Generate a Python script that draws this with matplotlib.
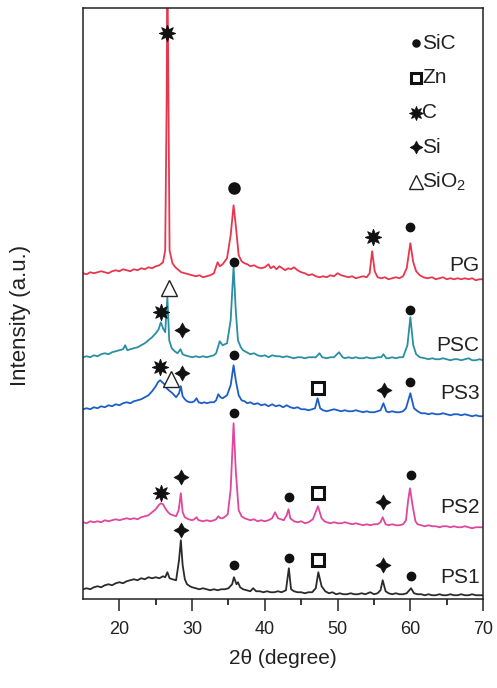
import numpy as np
import matplotlib
matplotlib.use("Agg")
import matplotlib.pyplot as plt

plt.rcParams['font.family'] = ['Liberation Sans Narrow', 'Liberation Sans', 'DejaVu Sans']
plt.rcParams['mathtext.default'] = 'regular'

# XRD patterns, stacked with offsets (2theta in degree, intensity in a.u.)
pg_pts = [(15, 326), (15.5, 325), (16, 327), (16.5, 326), (17, 327), (17.5, 328), (18, 327),
          (18.5, 326), (19, 328), (19.5, 329), (20, 328), (20.5, 330), (21, 329), (21.5, 328),
          (22, 330), (22.5, 329), (23, 331), (23.5, 330), (24, 332), (24.5, 331), (25, 333),
          (25.5, 334), (26, 337), (26.3, 349), (26.5, 499), (26.6, 640), (26.75, 499),
          (26.9, 349), (27.3, 336), (27.7, 332), (28, 330), (28.5, 327), (29, 326),
          (29.5, 325), (30, 324), (30.5, 323), (31, 324), (31.5, 322), (32, 323),
          (32.5, 324), (33, 326), (33.5, 337), (33.8, 333), (34.2, 335), (34.8, 341),
          (35.3, 364), (35.7, 394), (36.0, 374), (36.4, 344), (36.8, 338), (37.2, 336),
          (37.6, 335), (38, 333), (38.5, 334), (39, 332), (39.5, 331), (40, 332),
          (40.5, 335), (40.8, 331), (41.2, 333), (41.6, 330), (42, 333), (42.4, 331),
          (42.8, 329), (43.2, 331), (43.6, 330), (44, 332), (44.5, 329), (45, 327),
          (45.5, 326), (46, 324), (46.5, 325), (47, 323), (47.5, 322), (48, 323),
          (48.5, 322), (49, 324), (49.5, 323), (50, 326), (50.5, 324), (51, 323),
          (51.5, 322), (52, 323), (52.5, 321), (53, 322), (53.5, 323), (54, 322),
          (54.4, 326), (54.75, 348), (55.1, 328), (55.5, 322), (56, 321), (56.5, 322),
          (57, 320), (57.5, 321), (58, 322), (58.5, 321), (59, 323), (59.5, 331),
          (60.0, 356), (60.4, 337), (60.8, 328), (61.3, 324), (61.8, 322), (62.3, 321),
          (63, 322), (63.5, 320), (64, 321), (64.5, 322), (65, 320), (65.5, 321),
          (66, 320), (66.5, 321), (67, 320), (67.5, 321), (68, 320), (68.5, 321),
          (69, 319), (69.5, 320), (70, 320)]

psc_pts = [(15, 242), (15.5, 243), (16, 242), (16.5, 244), (17, 243), (17.5, 245), (18, 246),
           (18.5, 245), (19, 247), (19.5, 248), (20, 249), (20.5, 250), (20.8, 254),
           (21.1, 249), (21.5, 250), (22, 251), (22.5, 252), (23, 254), (23.5, 256),
           (24, 259), (24.5, 262), (25, 266), (25.4, 270), (25.7, 277), (26.0, 271),
           (26.3, 267), (26.6, 302), (26.85, 259), (27.2, 251), (27.6, 248), (28, 246),
           (28.4, 250), (28.7, 245), (29, 244), (29.5, 243), (30, 242), (30.5, 243),
           (31, 242), (31.5, 243), (32, 242), (32.5, 243), (33, 244), (33.3, 246),
           (33.8, 258), (34.2, 254), (34.8, 256), (35.3, 279), (35.7, 333), (36.0, 289),
           (36.3, 259), (36.7, 252), (37, 249), (37.5, 247), (38, 245), (38.5, 246),
           (39, 244), (39.5, 243), (40, 244), (40.5, 242), (41, 244), (41.5, 243),
           (42, 243), (42.5, 242), (43, 243), (43.5, 242), (44, 241), (44.5, 242),
           (45, 242), (45.5, 241), (46, 242), (46.5, 242), (47, 242), (47.5, 246),
           (47.9, 242), (48.5, 241), (49, 242), (49.5, 242), (50.2, 247), (50.7, 242),
           (51, 241), (51.5, 242), (52, 241), (52.5, 242), (53, 241), (53.5, 241),
           (54, 242), (54.5, 241), (55, 241), (55.5, 242), (56, 242), (56.3, 245),
           (56.7, 241), (57, 241), (57.5, 242), (58, 241), (58.5, 242), (59, 242),
           (59.6, 254), (60.0, 282), (60.4, 254), (60.8, 245), (61.3, 242), (62, 241),
           (62.5, 240), (63, 241), (63.5, 240), (64, 240), (64.5, 241), (65, 240),
           (65.5, 239), (66, 240), (66.5, 240), (67, 239), (67.5, 240), (68, 241),
           (68.5, 239), (69, 239), (69.5, 240), (70, 239)]

ps3_pts = [(15, 190), (15.5, 191), (16, 190), (16.5, 192), (17, 191), (17.5, 193), (18, 192),
           (18.5, 194), (19, 193), (19.5, 195), (20, 194), (20.5, 196), (21, 197),
           (21.5, 196), (22, 198), (22.5, 199), (23, 200), (23.5, 202), (24, 204),
           (24.5, 208), (25, 213), (25.3, 217), (25.6, 219), (25.9, 217), (26.2, 215),
           (26.5, 211), (26.8, 209), (27.3, 206), (27.8, 202), (28.2, 206), (28.45, 213),
           (28.7, 203), (29, 200), (29.3, 198), (29.7, 197), (30, 197), (30.3, 198),
           (30.6, 201), (30.9, 197), (31.3, 196), (31.7, 197), (32, 196), (32.5, 197),
           (33, 197), (33.3, 199), (33.6, 205), (33.9, 202), (34.2, 201), (34.8, 204),
           (35.3, 214), (35.7, 234), (36.0, 219), (36.4, 204), (36.8, 199), (37.2, 198),
           (37.6, 196), (38, 197), (38.5, 195), (39, 196), (39.5, 194), (40, 195),
           (40.5, 193), (41, 195), (41.5, 193), (42, 194), (42.5, 192), (43, 194),
           (43.5, 192), (44, 191), (44.5, 192), (45, 190), (45.5, 190), (46, 189),
           (46.5, 190), (46.9, 191), (47.25, 201), (47.6, 191), (48, 189), (48.5, 188),
           (49, 189), (49.5, 190), (50, 189), (50.5, 188), (51, 189), (51.5, 188),
           (52, 188), (52.5, 189), (53, 188), (53.5, 187), (54, 188), (54.5, 187),
           (55, 187), (55.5, 188), (55.9, 189), (56.3, 196), (56.7, 188), (57, 187),
           (57.5, 188), (58, 187), (58.5, 187), (59, 188), (59.4, 191), (60.0, 206),
           (60.5, 191), (61, 188), (61.5, 186), (62, 186), (62.5, 185), (63, 186),
           (63.5, 185), (64, 185), (64.5, 186), (65, 185), (65.5, 184), (66, 185),
           (66.5, 185), (67, 184), (67.5, 185), (68, 184), (68.5, 183), (69, 184),
           (69.5, 183), (70, 183)]

ps2_pts = [(15, 77), (15.5, 76), (16, 78), (16.5, 77), (17, 78), (17.5, 77), (18, 79),
           (18.5, 78), (19, 79), (19.5, 80), (20, 79), (20.5, 80), (21, 81), (21.5, 80),
           (22, 81), (22.5, 80), (23, 82), (23.5, 83), (24, 84), (24.5, 87), (25, 90),
           (25.4, 94), (25.7, 96), (26.0, 95), (26.3, 91), (26.7, 87), (27, 85),
           (27.4, 84), (27.8, 83), (28.15, 89), (28.45, 106), (28.7, 87), (29, 82),
           (29.5, 80), (30, 79), (30.3, 80), (30.6, 82), (30.9, 79), (31.5, 78), (32, 79),
           (32.5, 78), (33, 79), (33.3, 80), (33.6, 83), (33.9, 81), (34.2, 81),
           (34.6, 83), (34.9, 85), (35.3, 110), (35.7, 176), (36.0, 129), (36.4, 89),
           (36.8, 83), (37.2, 81), (37.6, 80), (38, 79), (38.5, 80), (39, 78), (39.5, 79),
           (40, 78), (40.5, 79), (41, 81), (41.4, 87), (41.8, 81), (42.2, 80), (42.6, 79),
           (43.0, 84), (43.25, 90), (43.5, 81), (44, 78), (44.5, 77), (45, 78), (45.5, 76),
           (46, 77), (46.6, 80), (47.3, 93), (47.8, 81), (48.2, 78), (48.5, 77), (49, 76),
           (49.5, 77), (50, 76), (50.5, 76), (51, 77), (51.5, 76), (52, 75), (52.5, 76),
           (53, 75), (53.5, 74), (54, 75), (54.5, 74), (55, 75), (55.5, 75), (55.9, 77),
           (56.2, 82), (56.6, 75), (57, 74), (57.5, 75), (58, 74), (58.5, 74), (59, 75),
           (59.4, 79), (59.7, 99), (59.95, 111), (60.3, 94), (60.7, 78), (61, 75),
           (61.5, 74), (62, 73), (62.5, 74), (63, 73), (63.5, 73), (64, 72), (64.5, 73),
           (65, 73), (65.5, 72), (66, 73), (66.5, 72), (67, 72), (67.5, 73), (68, 72),
           (68.5, 71), (69, 72), (69.5, 72), (70, 72)]

ps1_pts = [(15, 10), (15.5, 11), (16, 10), (16.5, 12), (17, 13), (17.5, 12), (18, 14),
           (18.5, 15), (19, 14), (19.5, 16), (20, 17), (20.5, 16), (21, 18), (21.5, 19),
           (22, 20), (22.5, 19), (23, 21), (23.5, 20), (24, 22), (24.5, 21), (25, 22),
           (25.5, 21), (26, 23), (26.3, 22), (26.6, 27), (26.9, 21), (27.3, 20), (27.8, 19),
           (28.2, 39), (28.45, 59), (28.7, 34), (29.0, 20), (29.3, 15), (29.7, 13), (30, 12),
           (30.5, 11), (31, 10), (31.5, 11), (32, 10), (32.5, 9), (33, 10), (33.5, 9),
           (34, 10), (34.5, 10), (35, 11), (35.5, 15), (35.75, 22), (36.1, 15), (36.3, 17),
           (36.6, 12), (37, 10), (37.5, 9), (38, 8), (38.4, 11), (38.8, 8), (39.3, 8),
           (39.8, 7), (40.3, 8), (40.8, 7), (41.3, 7), (41.8, 8), (42.3, 7), (42.9, 9),
           (43.3, 31), (43.6, 10), (44, 8), (44.5, 7), (45, 7), (45.5, 6), (46, 7),
           (46.5, 7), (47.0, 11), (47.35, 27), (47.8, 13), (48.3, 8), (48.8, 6), (49.3, 7),
           (49.8, 5), (50.3, 6), (50.8, 5), (51.3, 5), (51.8, 6), (52.3, 5), (52.8, 5),
           (53.3, 6), (53.8, 5), (54.5, 7), (55, 5), (55.5, 6), (55.9, 9), (56.2, 19),
           (56.6, 8), (57, 6), (57.5, 5), (58, 6), (58.5, 5), (59, 5), (59.5, 6),
           (60.1, 11), (60.5, 6), (61, 5), (61.5, 5), (62, 4), (62.5, 5), (63, 4),
           (63.5, 4), (64, 5), (64.5, 4), (65, 4), (65.5, 5), (66, 4), (66.5, 4), (67, 5),
           (67.5, 4), (68, 4), (68.5, 5), (69, 4), (69.5, 4), (70, 4)]

samples = ['PG', 'PSC', 'PS3', 'PS2', 'PS1']
patterns = [pg_pts, psc_pts, ps3_pts, ps2_pts, ps1_pts]
colors = ['#e8364e', '#2a8fa2', '#1c5ec8', '#e0479c', '#2b2b2b']
label_y = [334, 254, 206, 92, 22]

# phase marks: (phase, 2theta, height)
marks = [('C', 26.6, 566), ('SiC', 35.8, 411), ('C', 54.8, 362), ('SiC', 60.0, 372),
         ('SiO2', 26.8, 311), ('C', 25.7, 287), ('Si', 28.6, 269), ('SiC', 35.8, 337),
         ('SiC', 60.0, 289),
         ('C', 25.6, 232), ('SiO2', 27.1, 220), ('Si', 28.6, 226), ('SiC', 35.8, 244),
         ('Zn', 47.3, 211), ('Si', 56.4, 209), ('SiC', 60.0, 217),
         ('C', 25.7, 106), ('Si', 28.5, 122), ('SiC', 35.8, 186), ('SiC', 43.3, 102),
         ('Zn', 47.3, 106), ('Si', 56.3, 97), ('SiC', 60.1, 124),
         ('Si', 28.5, 69), ('SiC', 35.8, 34), ('SiC', 43.3, 41), ('Zn', 47.3, 39),
         ('Si', 56.3, 34), ('SiC', 60.1, 23)]

phases = ['SiC', 'Zn', 'C', 'Si', 'SiO2']
phase_labels = ['SiC', 'Zn', 'C', 'Si', 'SiO$_2$']

styles = {
    'SiC': dict(marker='o', ms=6, mfc='#111', mec='#111'),
    'Zn': dict(marker='s', ms=9, mfc='white', mec='#111', mew=2.2),
    'C': dict(marker=(8, 1, 0), ms=12, mfc='#111', mec='#111', mew=0.6),
    'Si': dict(marker=(4, 1, 0), ms=11, mfc='#111', mec='#111', mew=0.4),
    'SiO2': dict(marker='^', ms=12, mfc='white', mec='#222', mew=1.0),
}

fig = plt.figure(figsize=(4.97, 6.88), dpi=100)
ax = fig.add_axes([0.167, 0.129, 0.805, 0.859])

for name, pts, c, ly in zip(samples, patterns, colors, label_y):
    xy = np.array(pts)
    ax.plot(xy[:, 0], xy[:, 1], color=c, lw=1.3)
    ax.text(69.5, ly, name, ha='right', va='center', fontsize=15, color='#222')

for ph, tt, h in marks:
    st = dict(styles[ph])
    if ph == 'SiC' and h == 411:
        st['ms'] = 8
    ax.plot(tt, h, ls='none', zorder=5, **st)

# phase key in the upper right corner
for i, (ph, lab) in enumerate(zip(phases, phase_labels)):
    yy = 0.941 - i * 0.0588
    st = dict(styles[ph])
    st['ms'] = st['ms'] * 0.85
    ax.plot(0.8325, yy, ls='none', transform=ax.transAxes, clip_on=False, **st)
    ax.text(0.848, yy, lab, transform=ax.transAxes, ha='left', va='center',
            fontsize=15, color='#222')

ax.set_xlim(15, 70)
ax.set_ylim(0, 591)
ax.set_xticks([20, 30, 40, 50, 60, 70])
ax.set_xticks([25, 35, 45, 55, 65], minor=True)
ax.set_yticks([])
ax.tick_params(axis='x', which='major', direction='out', length=8.5, width=1.1,
               pad=7, labelsize=13, colors='#222')
ax.tick_params(axis='x', which='minor', direction='out', length=4.5, width=1.1)
for sp in ax.spines.values():
    sp.set_linewidth(1.1)
    sp.set_color('#222')

ax.set_xlabel('2θ (degree)', fontsize=15, color='#222', labelpad=8)
ax.set_ylabel('Intensity (a.u.)', fontsize=16, color='#222',
              family=['Liberation Sans', 'DejaVu Sans'])
ax.yaxis.set_label_coords(-0.13, 0.48)

fig.savefig('out.png', dpi=100)
